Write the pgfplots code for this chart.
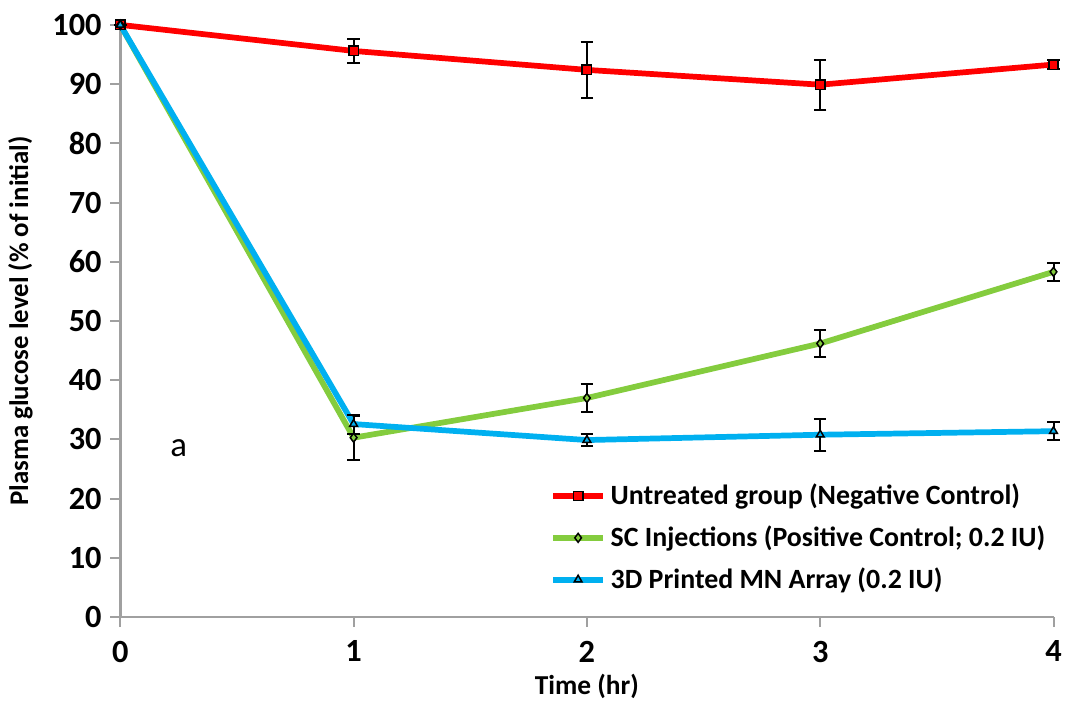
\documentclass[border=0pt]{standalone}
\usepackage{fontspec}
\setmainfont{Carlito}
\usepackage{pgfplots}
\pgfplotsset{compat=1.18}
\definecolor{redl}{RGB}{255,0,0}
\definecolor{greenl}{RGB}{132,204,62}
\definecolor{bluel}{RGB}{0,176,240}
\definecolor{axgray}{RGB}{160,160,160}
\begin{document}
\begin{tikzpicture}
\begin{axis}[
  scale only axis,
  width=375pt, height=238pt,
  xmin=0, xmax=4, ymin=0, ymax=100,
  axis x line*=bottom, axis y line*=left,
  axis line style={axgray, line width=1pt},
  xtick={0,1,2,3,4}, ytick={0,10,...,100},
  tick style={axgray, line width=0.8pt},
  tick align=outside,
  major tick length=4pt,
  x tick label style={font=\bfseries\fontsize{13}{15}\selectfont, yshift=-2pt},
  y tick label style={font=\bfseries\fontsize{13}{15}\selectfont},
  /pgf/number format/assume math mode=true,
  xlabel={\bfseries Time (hr)},
  ylabel={\bfseries Plasma glucose level (\% of initial)},
  xlabel style={font=\fontsize{11}{13}\selectfont, yshift=2pt},
  ylabel style={font=\fontsize{10.8}{13}\selectfont, yshift=1pt},
  legend style={draw=none, fill=none, at={(1.005,0.025)}, anchor=south east,
    font=\bfseries\fontsize{11.2}{13}\selectfont, row sep=3pt},
  legend image code/.code={
    \draw[#1, mark=none] (0cm,0cm) -- (0.7cm,0cm);
    \draw[#1, only marks] plot coordinates {(0.35cm,0cm)};
  },
  legend cell align=left,
  clip=false,
]
\path (rel axis cs:0,1) ++(0,10pt) coordinate (topmark);
\addplot[redl, line width=2.3pt, mark=square*, mark size=1.9pt,
  mark options={fill=redl, draw=black, line width=0.6pt},
  error bars/.cd, y dir=both, y explicit,
  error bar style={black, line width=0.8pt}, error mark options={black, line width=0.8pt, mark size=2.5pt, rotate=90}]
  coordinates {(0,100) +- (0,0) (1,95.6) +- (0,2.0) (2,92.4) +- (0,4.7) (3,89.9) +- (0,4.2) (4,93.3) +- (0,0.8)};
\addlegendentry{Untreated group (Negative Control)}
\addplot[greenl, line width=2.3pt, mark=diamond*, mark size=1.8pt,
  mark options={fill=greenl, draw=black, line width=0.6pt},
  error bars/.cd, y dir=both, y explicit,
  error bar style={black, line width=0.8pt}, error mark options={black, line width=0.8pt, mark size=2.5pt, rotate=90}]
  coordinates {(0,100) +- (0,0) (1,30.3) +- (0,3.7) (2,37.0) +- (0,2.4) (3,46.2) +- (0,2.2) (4,58.3) +- (0,1.5)};
\addlegendentry{SC Injections (Positive Control; 0.2 IU)}
\addplot[bluel, line width=2.3pt, mark=triangle*, mark size=1.8pt,
  mark options={fill=bluel, draw=black, line width=0.6pt},
  error bars/.cd, y dir=both, y explicit,
  error bar style={black, line width=0.8pt}, error mark options={black, line width=0.8pt, mark size=2.5pt, rotate=90}]
  coordinates {(0,100) +- (0,0) (1,32.6) +- (0,1.6) (2,29.9) +- (0,1.0) (3,30.8) +- (0,2.7) (4,31.4) +- (0,1.5)};
\addlegendentry{3D Printed MN Array (0.2 IU)}
\node[font=\fontsize{14}{16}\selectfont] at (axis cs:0.25,28.6) {a};
\end{axis}
\end{tikzpicture}
\end{document}
